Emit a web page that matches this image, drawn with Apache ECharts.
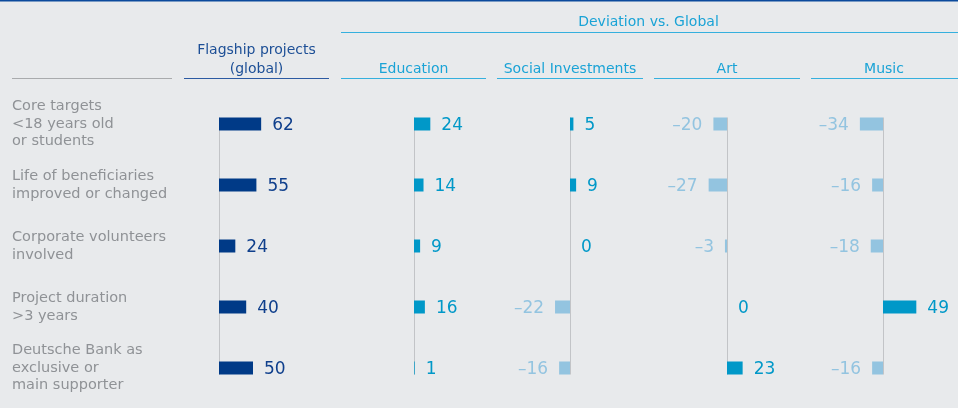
<!DOCTYPE html>
<html>
<head>
<meta charset="utf-8">
<script src="https://cdn.jsdelivr.net/npm/echarts@6/dist/echarts.min.js"></script>
<style>
  html, body { margin: 0; padding: 0; background: #e8eaec; }
  #chart { width: 958px; height: 408px; }
</style>
</head>
<body>
<div id="chart"></div>
<script>
// Row labels (top to bottom)
const categories = [
  'Core targets\n<18 years old\nor students',
  'Life of beneficiaries\nimproved or changed',
  'Corporate volunteers\ninvolved',
  'Project duration\n>3 years',
  'Deutsche Bank as\nexclusive or\nmain supporter'
];

// Column headers
const columnTitles = ['Flagship projects\n(global)', 'Education', 'Social Investments', 'Art', 'Music'];
const groupTitle = 'Deviation vs. Global';

// Values (%) – flagship projects and deviations vs. global
const flagship = [62, 55, 24, 40, 50];
const education = [24, 14, 9, 16, 1];
const socialInvestments = [5, 9, 0, -22, -16];
const art = [-20, -27, -3, 0, 23];
const music = [-34, -16, -18, 49, -16];

const columns = [flagship, education, socialInvestments, art, music];

const FONT = 'DejaVu Sans';
const BG = '#e8eaec';
const DARK = '#003a87';
const DARK_TEXT = '#0f3f8c';
const POS = '#0098c8';
const NEG = '#93c4e0';
const AXIS_GREY = '#c2c4c7';
const BAR_W = 13;

// Zero positions of each column and their scale (px per unit = 0.68)
const zeroX = [219, 414, 570, 727, 883];
const HALF = 68; // 100 units

const grids = [], xAxes = [], yAxes = [], series = [];

columns.forEach((vals, i) => {
  const isFlag = i === 0;
  grids.push({
    left: isFlag ? zeroX[i] : zeroX[i] - HALF,
    width: isFlag ? HALF : HALF * 2,
    top: 93.5,
    height: 305,
    outerBoundsMode: 'none'
  });
  xAxes.push({
    gridIndex: i, type: 'value',
    min: isFlag ? 0 : -100, max: 100,
    show: false
  });
  yAxes.push({
    gridIndex: i, type: 'category', inverse: true,
    data: categories,
    axisLine: { show: false },
    axisTick: { show: false },
    splitLine: { show: false },
    axisLabel: isFlag ? {
      show: true,
      align: 'left',
      margin: zeroX[0] - 12,
      fontFamily: FONT,
      fontSize: 14.5,
      lineHeight: 17.5,
      padding: [3, 0, 0, 0],
      color: '#8f9296'
    } : { show: false }
  });

  // baseline from top of first bar to bottom of last bar
  series.push({
    type: 'custom',
    xAxisIndex: i, yAxisIndex: i,
    silent: true,
    z: 1,
    data: [[0, 0]],
    renderItem: (params, api) => {
      const a = api.coord([0, 0]);
      const b = api.coord([0, categories.length - 1]);
      const x = Math.round(a[0]) + 0.5;
      return {
        type: 'line',
        shape: { x1: x, y1: a[1] - BAR_W / 2, x2: x, y2: b[1] + BAR_W / 2 },
        style: { stroke: AXIS_GREY, lineWidth: 1 }
      };
    }
  });

  series.push({
    type: 'bar',
    xAxisIndex: i, yAxisIndex: i,
    barWidth: BAR_W,
    z: 2,
    silent: true,
    data: vals.map(v => {
      const neg = v < 0;
      const barColor = isFlag ? DARK : (neg ? NEG : POS);
      const textColor = isFlag ? DARK_TEXT : (neg ? NEG : POS);
      return {
        value: v,
        itemStyle: { color: barColor },
        label: {
          show: true,
          position: neg ? 'left' : 'right',
          distance: 11,
          offset: [0, 2],
          fontFamily: FONT,
          fontSize: 17,
          color: textColor,
          formatter: () => (neg ? '\u2013' + Math.abs(v) : String(v))
        }
      };
    })
  });
});

// header texts and rules
const centers = [256.5, 413.5, 570, 727, 884];
const graphics = [
  { type: 'line', shape: { x1: 0, y1: 0.75, x2: 958, y2: 0.75 }, style: { stroke: '#0b4a9c', lineWidth: 1.5 } },
  { type: 'line', shape: { x1: 341, y1: 32.5, x2: 958, y2: 32.5 }, style: { stroke: '#35b0de', lineWidth: 1.2 } },
  { type: 'text', x: 648.5, y: 22.5, style: { text: groupTitle, fontFamily: FONT, fontSize: 14, fill: '#1aa3d6', align: 'center', verticalAlign: 'middle' } },
  { type: 'line', shape: { x1: 12, y1: 78.5, x2: 172, y2: 78.5 }, style: { stroke: '#a9abad', lineWidth: 1.2 } },
  { type: 'line', shape: { x1: 184, y1: 78.5, x2: 329, y2: 78.5 }, style: { stroke: '#2c5aa2', lineWidth: 1.2 } },
  { type: 'text', x: centers[0], y: 59.5, style: { text: columnTitles[0], fontFamily: FONT, fontSize: 14, lineHeight: 19, fill: '#1d4f96', align: 'center', verticalAlign: 'middle' } }
];
const lineSpans = [[341, 486], [497, 643], [654, 800], [811, 958]];
for (let i = 1; i < 5; i++) {
  graphics.push({ type: 'line', shape: { x1: lineSpans[i - 1][0], y1: 78.5, x2: lineSpans[i - 1][1], y2: 78.5 }, style: { stroke: '#35b0de', lineWidth: 1.2 } });
  graphics.push({ type: 'text', x: centers[i], y: 69, style: { text: columnTitles[i], fontFamily: FONT, fontSize: 14, fill: '#1aa3d6', align: 'center', verticalAlign: 'middle' } });
}

const chart = echarts.init(document.getElementById('chart'), null, { renderer: 'canvas' });
chart.setOption({
  backgroundColor: BG,
  animation: false,
  grid: grids,
  xAxis: xAxes,
  yAxis: yAxes,
  series: series,
  graphic: graphics
});
</script>
</body>
</html>
